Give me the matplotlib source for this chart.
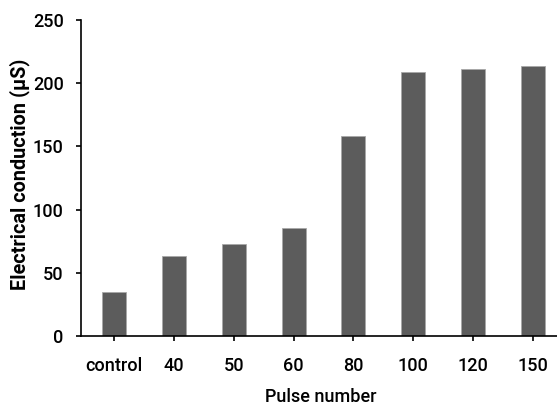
import matplotlib
matplotlib.use("Agg")
import matplotlib.pyplot as plt

# data
categories = ["control", "40", "50", "60", "80", "100", "120", "150"]
conduction = [35, 63, 73, 85.5, 158, 209, 211, 214]

plt.rcParams['font.family'] = ['Roboto', 'DejaVu Sans']

fig = plt.figure(figsize=(5.57, 4.11), dpi=100)
ax = fig.add_axes([0.1454, 0.183, 0.86, 0.768])

x = range(len(categories))
ax.bar(x, conduction, width=0.4, color="#5c5c5c", edgecolor="#a8a8a8", linewidth=0.6)

ax.set_xlim(-0.55, 7.45)
ax.set_ylim(0, 250)
ax.set_yticks([0, 50, 100, 150, 200, 250])
ax.set_xticks(list(x))
ax.set_xticklabels(categories)

for s in ["top", "right"]:
    ax.spines[s].set_visible(False)
ax.spines["left"].set_linewidth(1.2)
ax.spines["bottom"].set_linewidth(1.2)

ax.tick_params(axis="both", direction="out", length=3.5, width=1.2, labelsize=13)
ax.tick_params(axis="y", pad=9)
ax.tick_params(axis="x", pad=12)
for lbl in ax.get_xticklabels() + ax.get_yticklabels():
    lbl.set_fontweight("medium")

ax.set_xlabel("Pulse number", fontsize=13, fontweight="medium", labelpad=9)
ax.set_ylabel("Electrical conduction (\u03bcS)", fontsize=14.3, fontweight="bold")
ax.yaxis.set_label_coords(-0.106, 0.51)

fig.savefig("out.png", dpi=100)
